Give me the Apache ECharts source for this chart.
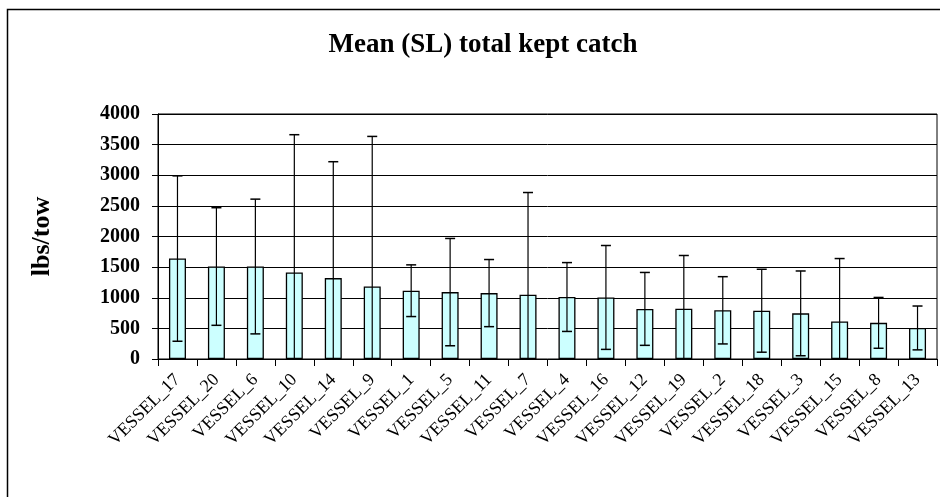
<!DOCTYPE html>
<html>
<head>
<meta charset="utf-8">
<script src="https://cdn.jsdelivr.net/npm/echarts@6/dist/echarts.min.js"></script>
<style>
html,body{margin:0;padding:0;background:#fff;}
#chart{width:940px;height:497px;}
</style>
</head>
<body>
<div id="chart"></div>
<script>
var categories = ['VESSEL_17','VESSEL_20','VESSEL_6','VESSEL_10','VESSEL_14','VESSEL_9','VESSEL_1','VESSEL_5','VESSEL_11','VESSEL_7','VESSEL_4','VESSEL_16','VESSEL_12','VESSEL_19','VESSEL_2','VESSEL_18','VESSEL_3','VESSEL_15','VESSEL_8','VESSEL_13'];
var means = [1640,1510,1510,1412,1321,1184,1115,1092,1076,1048,1012,1005,818,820,795,788,745,613,590,507];
var sds   = [1350,960,1100,2250,1900,2450,422,876,548,1670,562,848,595,870,549,677,692,1027,415,358];
var yTicks = {min:0, max:4000, interval:500};

var errData = categories.map(function(c,i){ return [i, Math.max(0, means[i]-sds[i]), means[i]+sds[i], means[i]-sds[i] > 0 ? 1 : 0]; });

var chart = echarts.init(document.getElementById('chart'), null, {renderer:'canvas'});
var serif = '"Liberation Serif","Times New Roman",serif';
chart.setOption({
  animation:false,
  backgroundColor:'#fff',
  title:{
    text:'Mean (SL) total kept catch',
    left:478, top:27, textAlign:'center',
    textStyle:{fontFamily:serif, fontWeight:'bold', fontSize:27, color:'#000'}
  },
  graphic:[{type:'rect', shape:{x:7.5,y:9.5,width:1000,height:1000}, style:{fill:null, stroke:'#000', lineWidth:1.5}, silent:true, z:-1}],
  grid:{left:158, right:3, top:114, bottom:138, show:true, borderColor:'#000', borderWidth:1, containLabel:false},
  xAxis:{
    type:'category', data:categories, boundaryGap:true,
    axisLine:{lineStyle:{color:'#000', width:1}},
    axisTick:{show:true, alignWithLabel:false, length:7, lineStyle:{color:'#000'}},
    axisLabel:{rotate:45, interval:0, margin:18, fontFamily:serif, fontSize:18, color:'#000'}
  },
  yAxis:{
    type:'value', min:yTicks.min, max:yTicks.max, interval:yTicks.interval,
    name:'lbs/tow', nameLocation:'middle', nameGap:103, nameRotate:90,
    nameTextStyle:{fontFamily:serif, fontWeight:'bold', fontSize:26, color:'#000'},
    axisLine:{show:true, lineStyle:{color:'#000', width:1}},
    axisTick:{show:true, length:6, lineStyle:{color:'#000'}},
    axisLabel:{margin:18, fontFamily:serif, fontWeight:'bold', fontSize:20, color:'#000',
      formatter:function(v){ return String(v); }},
    splitLine:{show:true, lineStyle:{color:'#000', width:1}}
  },
  series:[
    {type:'bar', data:means, barWidth:17,
     itemStyle:{color:'#CCFFFF', borderColor:'#000', borderWidth:1.3}},
    {type:'custom', data:errData, z:5,
     renderItem:function(params, api){
       var i = api.value(0);
       var lo = api.coord([i, api.value(1)]);
       var hi = api.coord([i, api.value(2)]);
       var hw = 5;
       var children = [
         {type:'line', shape:{x1:hi[0],y1:hi[1],x2:lo[0],y2:lo[1]}, style:{stroke:'#000', lineWidth:1.2}},
         {type:'line', shape:{x1:hi[0]-hw,y1:hi[1],x2:hi[0]+hw,y2:hi[1]}, style:{stroke:'#000', lineWidth:1.5}}
       ];
       if (api.value(3)) children.push({type:'line', shape:{x1:lo[0]-hw,y1:lo[1],x2:lo[0]+hw,y2:lo[1]}, style:{stroke:'#000', lineWidth:1.5}});
       return {type:'group', children:children};
     }}
  ]
});
</script>
</body>
</html>
